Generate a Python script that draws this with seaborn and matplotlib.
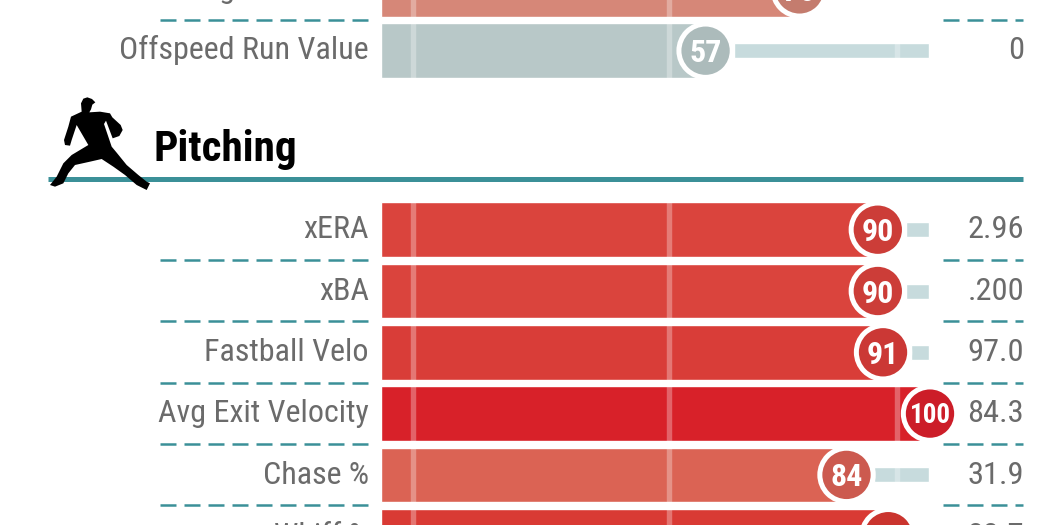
import matplotlib
matplotlib.use('Agg')
import matplotlib.pyplot as plt
from matplotlib.lines import Line2D
from matplotlib.patches import Polygon
import pandas as pd
import seaborn as sns

# upper panel (cut off by the top of the picture)
batting_metrics = ['Breaking Run Value', 'Offspeed Run Value']
batting_pct = [75, 57]
batting_values = ['2', '0']
batting_bars = ['#D68778', '#B8C8C8']
batting_dots = ['#C47C6E', '#ACBBBB']

# pitching panel
pitching_metrics = ['xERA', 'xBA', 'Fastball Velo', 'Avg Exit Velocity', 'Chase %', 'Whiff %']
pitching_pct = [90, 90, 91, 100, 84, 92]
pitching_values = ['2.96', '.200', '97.0', '84.3', '31.9', '33.7']
pitching_bars = ['#DA443D', '#DA443D', '#D93D38', '#D82129', '#DB6354', '#D93A34']
pitching_dots = ['#CC3D38', '#CC3D38', '#CB3835', '#CC1D28', '#CC5A4F', '#CA342E']

# pitcher silhouette outline, traced in 3x picture pixels
pitcher_outline = [
    (262, 292), (276, 297), (286, 307), (277, 314), (273, 328), (268, 337), (300, 335), (330, 340),
    (337, 352), (362, 375), (368, 390), (358, 408), (338, 415), (318, 362), (312, 372), (335, 440),
    (350, 458), (380, 495), (415, 525), (440, 545), (450, 550), (440, 570), (410, 555), (375, 525),
    (340, 500), (305, 477), (270, 485), (225, 495), (205, 520), (190, 550), (165, 560), (150, 555),
    (170, 530), (190, 490), (215, 465), (265, 435), (230, 375), (215, 420), (210, 437), (195, 435),
    (192, 420), (205, 380), (213, 350), (245, 335), (243, 310), (250, 296),
]

TEAL = '#3B9098'
TRACK = '#C7DBDD'
TEXT = '#6B6B6B'
FONT = ['Roboto Condensed', 'Liberation Sans Narrow', 'Roboto']

W, H = 1050, 525
ROW = 61.3
BAR_LEFT = 381
PX_PER_PCT = 5.219
PCT_ZERO = 408.1
PANEL_RIGHT = 930
TICKS = [1.0, 50, 93.6]


def px_to_pct(px):
    return (px - PCT_ZERO) / PX_PER_PCT


def draw_panel(ax, metrics, pct, values, bars, dots):
    df = pd.DataFrame({'metric': metrics, 'pct': pct, 'value': values, 'row': range(len(metrics))})
    start = px_to_pct(BAR_LEFT)
    bar_h = 54.5 / ROW
    track_h = 15 / ROW

    sns.barplot(data=df, x='pct', y='metric', hue='metric', palette=dict(zip(metrics, bars)),
                width=bar_h, saturation=1, legend=False, ax=ax, zorder=1)
    # bars begin left of the zero point
    for bar in ax.patches:
        end = bar.get_x() + bar.get_width()
        bar.set_x(start)
        bar.set_width(end - start)

    for row, p in zip(df['row'], df['pct']):
        track_start = p + 28 / PX_PER_PCT
        if track_start < 100:
            ax.barh(row, 99.9 - track_start, left=track_start, height=track_h, color=TRACK, zorder=1)
        for t in TICKS:
            half = bar_h / 2 if t <= p else track_h / 2
            if t <= p or t >= track_start:
                ax.vlines(t, row - half, row + half, color='white', alpha=0.3, lw=3.9, zorder=2)

    sns.scatterplot(data=df, x='pct', y='row', hue='metric', palette=dict(zip(metrics, dots)),
                    s=1474, linewidth=3.6, edgecolor='white', legend=False, ax=ax, zorder=3, clip_on=False)

    for row, m, p, v in zip(df['row'], df['metric'], df['pct'], df['value']):
        ax.text(px_to_pct(369), row + 8.6 / ROW, m, ha='right', va='baseline', fontsize=23.05,
                family=FONT, color=TEXT)
        ax.text(px_to_pct(1024), row + 8.6 / ROW, v, ha='right', va='baseline', fontsize=23.4,
                family=FONT, color=TEXT)
        big = p < 100
        ax.text(p, row + (11.5 if big else 9.5) / ROW, str(p), ha='center', va='baseline',
                fontsize=23 if big else 19.5, weight='bold', family=FONT, color='white', zorder=4)

    # dashed separators between rows
    for row in df['row'][:-1]:
        y = row + 0.5 - 0.3 / ROW
        ax.plot([px_to_pct(160), px_to_pct(367.7)], [y, y], color=TEAL, lw=1.8, dashes=(6.4, 3.2),
                dash_capstyle='butt', clip_on=False)
        ax.plot([px_to_pct(942.5), px_to_pct(1022.5)], [y, y], color=TEAL, lw=1.8, dashes=(6.4, 3.2),
                dash_capstyle='butt', clip_on=False)

    ax.set_xlim(start, px_to_pct(PANEL_RIGHT))
    ax.set_ylim(len(metrics) - 0.5, -0.5)
    ax.set_xlabel('')
    ax.set_ylabel('')
    ax.set_xticks([])
    ax.set_yticks([])
    sns.despine(ax=ax, left=True, bottom=True)


def panel_axes(fig, first_row_px, n_rows):
    # axes box in picture pixels, one row is ROW tall
    top = first_row_px - ROW / 2
    height = n_rows * ROW
    return fig.add_axes([BAR_LEFT / W, 1 - (top + height) / H, (PANEL_RIGHT - BAR_LEFT) / W, height / H])


sns.set_theme(style='white')
plt.rcParams['font.family'] = FONT

fig = plt.figure(figsize=(W / 100, H / 100), dpi=100)

ax_bat = panel_axes(fig, -10.6, len(batting_metrics))
draw_panel(ax_bat, batting_metrics, batting_pct, batting_values, batting_bars, batting_dots)

ax_pitch = panel_axes(fig, 229.7, len(pitching_metrics))
draw_panel(ax_pitch, pitching_metrics, pitching_pct, pitching_values, pitching_bars, pitching_dots)

# section header sits on its own axes in picture pixels
ax_head = fig.add_axes([0, 0, 1, 1], facecolor='none')
ax_head.set_xlim(0, W)
ax_head.set_ylim(H, 0)
ax_head.axis('off')
ax_head.add_line(Line2D([47.7, 1023], [178.5, 178.5], color=TEAL, lw=3.6, solid_capstyle='butt', zorder=2))
ax_head.add_patch(Polygon([(x / 3, y / 3) for x, y in pitcher_outline], closed=True, color='black', lw=0, zorder=3))
ax_head.text(153.5, 160.5, 'Pitching', fontsize=31.1, weight='bold', family=FONT, color='black',
             ha='left', va='baseline')

fig.savefig('out.png', dpi=100)
